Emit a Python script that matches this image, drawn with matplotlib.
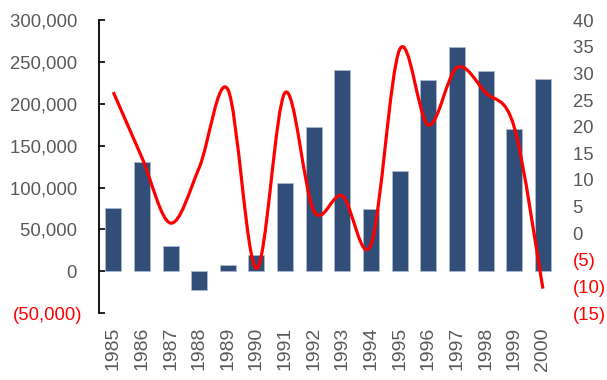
import matplotlib.pyplot as plt
from matplotlib.path import Path
from matplotlib.patches import PathPatch
from matplotlib.ticker import FuncFormatter, MultipleLocator

# dados
anos = ['1985', '1986', '1987', '1988', '1989', '1990', '1991', '1992',
        '1993', '1994', '1995', '1996', '1997', '1998', '1999', '2000']
valores = [75000, 130000, 30000, -22000, 7000, 20000, 105000, 172000,
           241000, 74000, 120000, 228000, 268000, 239000, 170000, 230000]
crescimento = [26.5, 14.2, 1.9, 12.3, 27.0, -6.6, 26.4, 4.2,
               7.0, -2.1, 34.5, 20.3, 31.1, 26.4, 19.9, -10.4]

CINZA = '#595959'
VERMELHO = '#FF0000'
AZUL = '#314E79'

plt.rcParams['font.family'] = ['Liberation Sans', 'DejaVu Sans']


def formato_contabil(v, pos=None):
    # estilo excel: negativos entre parenteses
    if v < 0:
        return f'({abs(v):,.0f})'
    return f'{v:,.0f} '


def linha_suave(xs, ys):
    # curva de bezier tipo "linha suavizada" do excel (catmull-rom)
    pts = list(zip(xs, ys))
    verts = [pts[0]]
    codes = [Path.MOVETO]
    n = len(pts)
    for i in range(n - 1):
        p0 = pts[i - 1] if i > 0 else pts[i]
        p1 = pts[i]
        p2 = pts[i + 1]
        p3 = pts[i + 2] if i + 2 < n else pts[i + 1]
        c1 = (p1[0] + (p2[0] - p0[0]) / 6, p1[1] + (p2[1] - p0[1]) / 6)
        c2 = (p2[0] - (p3[0] - p1[0]) / 6, p2[1] - (p3[1] - p1[1]) / 6)
        verts += [c1, c2, p2]
        codes += [Path.CURVE4] * 3
    return Path(verts, codes)


def plotar():
    fig = plt.figure(figsize=(6.07, 3.8), dpi=100)
    ax = fig.add_axes([0.163, 0.176, 0.755, 0.771])
    x = list(range(len(anos)))

    ax.bar(x, valores, width=0.56, color=AZUL, edgecolor='#A9B8CE', linewidth=0.6, zorder=2)
    ax.set_xlim(-0.5, len(anos) - 0.5)
    ax.set_ylim(-50000, 300000)
    ax.yaxis.set_major_locator(MultipleLocator(50000))
    ax.yaxis.set_major_formatter(FuncFormatter(formato_contabil))
    ax.tick_params(axis='y', direction='in', length=4, width=1.2, color='black',
                   labelsize=13.3, labelcolor=CINZA, pad=12)
    ax.set_xticks(x)
    ax.set_xticklabels(anos, rotation=90, fontsize=14, color=CINZA)
    ax.tick_params(axis='x', length=0, pad=10)
    for s in ['top', 'right', 'bottom']:
        ax.spines[s].set_visible(False)
    ax.spines['left'].set_linewidth(1.3)
    for lbl in ax.get_yticklabels():
        if lbl.get_text().startswith('('):
            lbl.set_color(VERMELHO)

    ax2 = ax.twinx()
    ax2.set_ylim(-15, 40)
    ax2.yaxis.set_major_locator(MultipleLocator(5))
    ax2.yaxis.set_major_formatter(FuncFormatter(formato_contabil))
    ax2.tick_params(axis='y', length=0, labelsize=13.3, labelcolor=CINZA, pad=11.5)
    for s in ax2.spines.values():
        s.set_visible(False)
    curva = PathPatch(linha_suave(x, crescimento), facecolor='none', edgecolor=VERMELHO,
                      linewidth=2.3, capstyle='butt', transform=ax2.transData)
    ax2.add_patch(curva)

    fig.canvas.draw()
    for lbl in ax2.get_yticklabels():
        if lbl.get_text().startswith('('):
            lbl.set_color(VERMELHO)

    fig.savefig('out.png', dpi=100)


if __name__ == '__main__':
    plotar()
